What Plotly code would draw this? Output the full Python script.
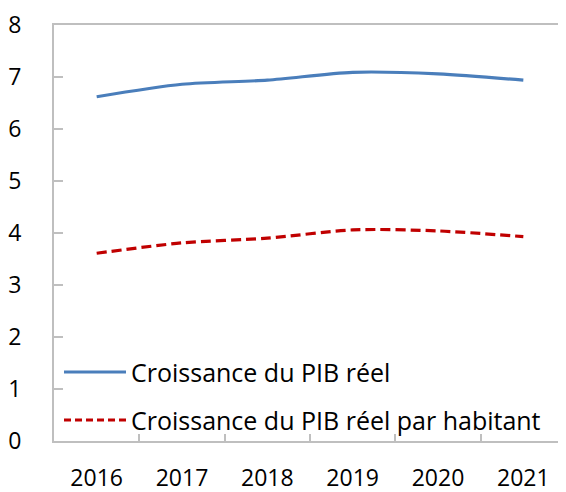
import plotly.graph_objects as go

years = ["2016", "2017", "2018", "2019", "2020", "2021"]
pib_reel = [6.62, 6.86, 6.94, 7.09, 7.06, 6.94]
pib_hab = [3.61, 3.81, 3.90, 4.06, 4.04, 3.93]
name_reel = "Croissance du PIB réel"
name_hab = "Croissance du PIB réel par habitant"

BLUE = "#4A7EBB"
RED = "#C00000"
GRAY = "#BFBFBF"
FONT = "Open Sans"

# page body has an 8px margin; figure is sized to fit the 566x492 window
W, H = 558, 484
L, T, B = 46, 17, 51
PW = W - L

fig = go.Figure()
fig.add_trace(go.Scatter(x=years, y=pib_reel, mode="lines", name=name_reel,
                         line=dict(color=BLUE, width=3.2, shape="spline", smoothing=0.8)))
fig.add_trace(go.Scatter(x=years, y=pib_hab, mode="lines", name=name_hab,
                         line=dict(color=RED, width=3.2, dash="10px,5px", shape="spline", smoothing=0.8)))

# manual legend (positions in plot-area pixels)
leg = [(name_reel, BLUE, "solid", 0.166), (name_hab, RED, "7px,4px", 0.0505)]
for txt, col, dsh, yy in leg:
    fig.add_shape(type="line", xref="paper", yref="paper",
                  x0=10 / PW, x1=72 / PW, y0=yy, y1=yy,
                  line=dict(color=col, width=3, dash=dsh))
    fig.add_annotation(xref="paper", yref="paper", x=75 / PW, y=yy,
                       text=txt, showarrow=False, xanchor="left", yanchor="middle",
                       font=dict(family=FONT, size=25, color="#000000"))

fig.update_layout(
    width=W, height=H,
    margin=dict(l=L, r=0, t=T, b=B),
    paper_bgcolor="white", plot_bgcolor="white",
    showlegend=False,
    font=dict(family=FONT, size=23, color="#000000"),
)
fig.update_xaxes(
    type="category", range=[-0.5, 5.5], autorange=False, automargin=False,
    showgrid=False, zeroline=False,
    showline=True, linecolor=GRAY, linewidth=2, mirror=True,
    ticks="inside", tickson="boundaries", ticklen=7, tickcolor=GRAY, tickwidth=1.5,
    ticklabelstandoff=15,
    tickfont=dict(family=FONT, size=23),
)
fig.update_yaxes(
    range=[0, 8], dtick=1, automargin=False, showgrid=False, zeroline=False,
    showline=True, linecolor=GRAY, linewidth=2,
    ticks="inside", ticklen=9, tickcolor=GRAY, tickwidth=1.5,
    ticklabelstandoff=26,
    tickfont=dict(family=FONT, size=23),
)
fig.write_html("out.html")
